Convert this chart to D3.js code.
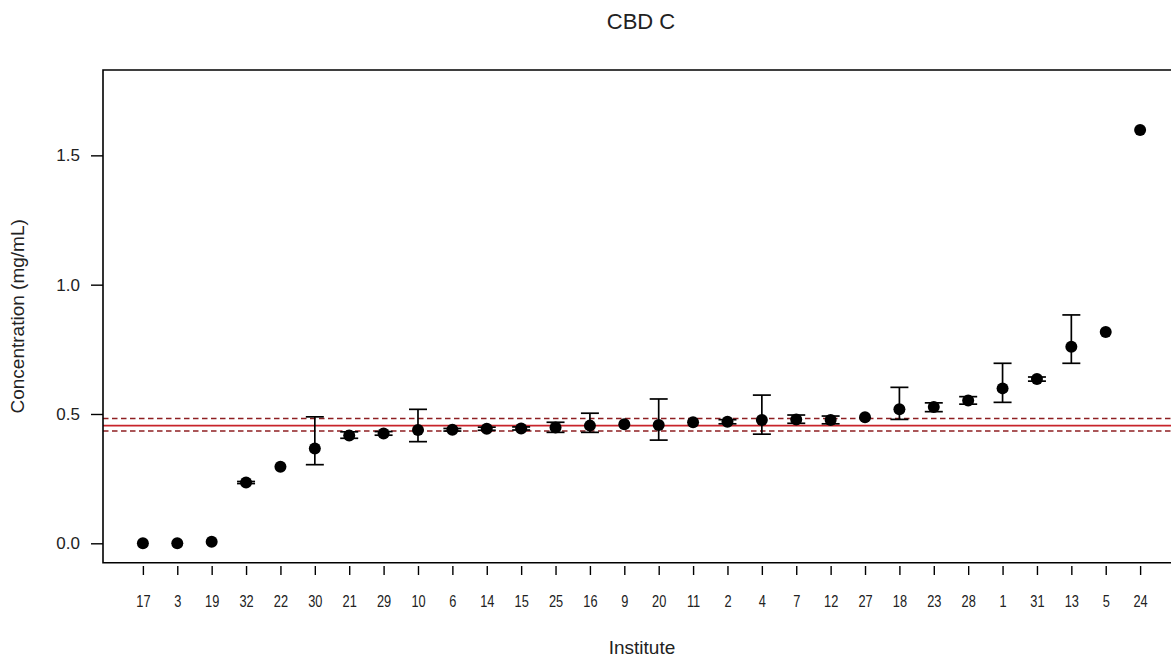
<!DOCTYPE html>
<html>
<head>
<meta charset="utf-8">
<script src="https://cdn.jsdelivr.net/npm/d3@7"></script>
<style>
	body { margin: 0; background: #fff; }
	svg { display: block; font-family: "Liberation Sans", Arial, sans-serif; }
</style>
</head>
<body>
<div id="chart"></div>
<script>
// institutes, sorted by reported value
const institutes = ['17', '3', '19', '32', '22', '30', '21', '29', '10', '6', '14', '15', '25', '16', '9',
	'20', '11', '2', '4', '7', '12', '27', '18', '23', '28', '1', '31', '13', '5', '24'];
const values = [0.0, 0.0, 0.006, 0.235, 0.296, 0.367, 0.417, 0.425, 0.438, 0.439, 0.443, 0.444, 0.448, 0.455, 0.46,
	0.457, 0.468, 0.47, 0.477, 0.479, 0.477, 0.487, 0.518, 0.527, 0.552, 0.599, 0.635, 0.760, 0.817, 1.598];
// error bar limits (null = no bar)
const lower = [null, null, null, 0.231, null, 0.304, 0.406, 0.418, 0.393, 0.434, 0.437, 0.438, 0.429, 0.429, null,
	0.399, null, 0.462, 0.422, 0.464, 0.462, null, 0.479, 0.509, 0.538, 0.545, 0.627, 0.696, null, null];
const upper = [null, null, null, 0.239, null, 0.489, 0.431, 0.432, 0.518, 0.444, 0.449, 0.450, 0.468, 0.503, null,
	0.558, null, 0.478, 0.573, 0.496, 0.492, null, 0.603, 0.543, 0.567, 0.696, 0.643, 0.883, null, null];
// consensus value and its interval
const refMean = 0.455;
const refBand = [0.434, 0.483];
const yTicks = [0.0, 0.5, 1.0, 1.5];

const width = 1171, height = 659;
const plotLeft = 103, plotRight = 1180, plotTop = 70, plotBottom = 562.7;

const svg = d3.select('#chart').append('svg')
	.attr('width', width)
	.attr('height', height);

const x = d3.scaleLinear()
	.domain([1 - 0.04 * 29, institutes.length + 0.04 * 29])
	.range([plotLeft, plotRight]);
const y = d3.scaleLinear()
	.domain([-0.075, 1.83])
	.range([plotBottom, plotTop]);

// reference lines
svg.append('line')
	.attr('x1', plotLeft).attr('x2', plotRight)
	.attr('y1', y(refMean)).attr('y2', y(refMean))
	.attr('stroke', '#c8242b')
	.attr('stroke-width', 1.6);
svg.selectAll('.band')
	.data(refBand)
	.enter().append('line')
	.attr('class', 'band')
	.attr('x1', plotLeft).attr('x2', plotRight)
	.attr('y1', (d) => y(d)).attr('y2', (d) => y(d))
	.attr('stroke', '#8e1f22')
	.attr('stroke-width', 1.5)
	.attr('stroke-dasharray', '5.5,3.5');

// error bars
const bars = svg.append('g')
	.selectAll('g')
	.data(institutes.map((d, i) => ({ i: i, lo: lower[i], hi: upper[i] })).filter((d) => d.lo !== null))
	.enter().append('g')
	.attr('stroke', '#000')
	.attr('stroke-width', 1.7);
bars.append('line')
	.attr('x1', (d) => x(d.i + 1)).attr('x2', (d) => x(d.i + 1))
	.attr('y1', (d) => y(d.lo)).attr('y2', (d) => y(d.hi));
bars.append('line')
	.attr('x1', (d) => x(d.i + 1) - 9).attr('x2', (d) => x(d.i + 1) + 9)
	.attr('y1', (d) => y(d.lo)).attr('y2', (d) => y(d.lo));
bars.append('line')
	.attr('x1', (d) => x(d.i + 1) - 9).attr('x2', (d) => x(d.i + 1) + 9)
	.attr('y1', (d) => y(d.hi)).attr('y2', (d) => y(d.hi));

// points
svg.append('g')
	.selectAll('circle')
	.data(values)
	.enter().append('circle')
	.attr('cx', (d, i) => x(i + 1))
	.attr('cy', (d) => y(d))
	.attr('r', 6)
	.attr('fill', '#000');

// box
svg.append('path')
	.attr('d', 'M' + plotRight + ',' + plotTop + 'H' + plotLeft + 'V' + plotBottom + 'H' + plotRight)
	.attr('fill', 'none')
	.attr('stroke', '#000')
	.attr('stroke-width', 1.6);

// y axis
const yAxis = svg.append('g')
	.attr('transform', 'translate(' + plotLeft + ',0)')
	.call(d3.axisLeft(y).tickValues(yTicks).tickFormat(d3.format('.1f')).tickSize(12).tickPadding(11));
yAxis.select('.domain').remove();
yAxis.selectAll('line').attr('stroke-width', 1.4);
yAxis.selectAll('text').attr('fill', '#222')
	.style('font-size', '17px')
	.style('font-family', 'Liberation Sans, Arial, sans-serif');

// x axis
const xAxis = svg.append('g')
	.attr('transform', 'translate(0,566)')
	.call(d3.axisBottom(x).tickValues(d3.range(1, institutes.length + 1))
		.tickFormat((d) => institutes[d - 1]).tickSize(9).tickPadding(21));
xAxis.select('.domain').remove();
xAxis.selectAll('line').attr('stroke-width', 1.4);
xAxis.selectAll('text')
	.attr('fill', '#222')
	.attr('transform', 'scale(0.8,1)')
	.style('font-size', '16px')
	.style('font-family', 'Liberation Sans, Arial, sans-serif');

// titles
svg.append('text')
	.attr('x', 641).attr('y', 29)
	.attr('text-anchor', 'middle')
	.style('font-size', '22px')
	.attr('fill', '#222')
	.text('CBD C');
svg.append('text')
	.attr('x', 642).attr('y', 654)
	.attr('text-anchor', 'middle')
	.style('font-size', '19px')
	.attr('fill', '#222')
	.text('Institute');
svg.append('text')
	.attr('transform', 'translate(24,' + ((plotTop + plotBottom) / 2) + ') rotate(-90)')
	.attr('text-anchor', 'middle')
	.style('font-size', '19px')
	.attr('fill', '#222')
	.text('Concentration (mg/mL)');
</script>
</body>
</html>
